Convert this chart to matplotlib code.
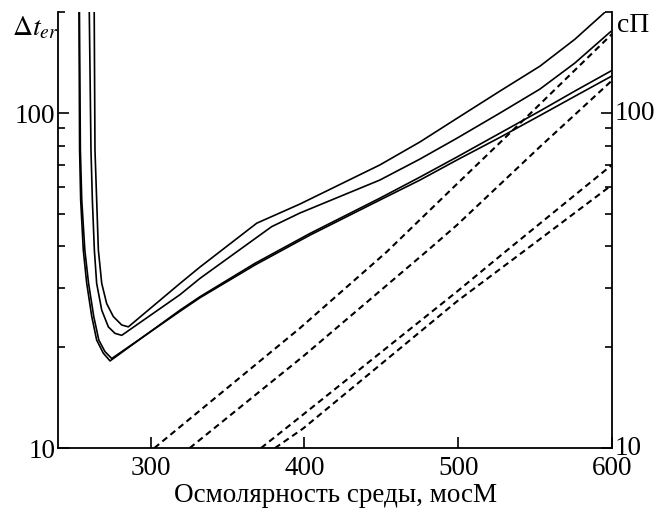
import numpy as np
import matplotlib
matplotlib.use("Agg")
import matplotlib.pyplot as plt
import matplotlib.transforms as mtransforms
from matplotlib.ticker import LogLocator, NullFormatter, FixedLocator, FixedFormatter

plt.rcParams['font.family'] = ['Liberation Serif', 'DejaVu Serif']
plt.rcParams['mathtext.fontset'] = 'stix'
plt.rcParams['lines.scale_dashes'] = False

# solid curves (Delta t_er)
xa = [263.3, 263.8, 264.9, 266.0, 268.2, 271.4, 275.7, 281.2, 285.5, 319.1, 332.1, 369.0,
      397.1, 449.1, 475.2, 499.2, 527.2, 553.2, 575.9, 595.5]
ya = [200, 77.6, 55.0, 39.0, 31.0, 27.0, 24.7, 23.3, 23.0, 31.0, 34.7, 46.9,
      53.5, 70.0, 82.0, 96.4, 116.3, 138, 166, 200]

xb = [260.1, 261.2, 262.1, 263.4, 264.9, 268.2, 272.5, 276.8, 281.2, 319.1, 332.1, 378.7,
      397.1, 449.1, 475.2, 499.2, 527.2, 553.2, 575.9, 599.2]
yb = [200, 77.6, 55.0, 39.0, 31.0, 25.8, 23.0, 22.0, 21.7, 28.7, 32.1, 45.8,
      50.3, 63.1, 72.9, 84.1, 100, 117.9, 141, 175]

xc = [253.4, 253.8, 254.5, 256.2, 258.4, 261.7, 264.9, 269.2, 273.6, 319.1, 332.1, 367.9,
      403.6, 449.1, 475.2, 499.2, 527.2, 553.2, 575.9, 600]
yc = [200, 77.6, 55.0, 39.0, 31.1, 24.7, 21.0, 19.2, 18.2, 25.8, 28.3, 35.6,
      43.7, 55.7, 64.4, 73.9, 87.1, 101.4, 116.3, 134]

xd = [253.7, 254.3, 255.2, 257.2, 259.6, 263.0, 266.3, 270.3, 274.7, 319.1, 332.1, 367.9,
      403.6, 449.1, 475.2, 499.2, 527.2, 553.2, 575.9, 600]
yd = [200, 77.6, 55.0, 39.0, 31.1, 24.7, 21.0, 19.4, 18.5, 25.6, 28.1, 35.2,
      43.2, 55.0, 63.1, 72.4, 84.6, 98.3, 112.2, 129]

# dashed curves (viscosity, cP)
x1 = [302.4, 397.1, 453.5, 499.2, 548.8, 600]
y1 = [10, 22.8, 38.5, 61.4, 101.6, 172]

x2 = [325.4, 399.3, 480.5, 499.2, 553.2, 600]
y2 = [10, 18.8, 39.0, 46.3, 79.3, 125]

x3 = [371.8, 399.3, 499.2, 529.3, 600]
y3 = [10, 12.6, 29.3, 38.1, 70]

x4 = [380.9, 399.3, 499.2, 539.5, 600]
y4 = [10, 11.45, 27.4, 37.7, 61]

xticks = [300, 400, 500, 600]
yticks = [10, 100]

fig = plt.figure(figsize=(6.68, 5.08), dpi=100)
ax = fig.add_axes([0.0874, 0.118, 0.8286, 0.858])

for x, y in [(xa, ya), (xb, yb), (xc, yc), (xd, yd)]:
    ax.plot(x, y, color='black', lw=1.2, solid_joinstyle='round')
for x, y in [(x1, y1), (x2, y2), (x3, y3), (x4, y4)]:
    ax.plot(x, y, color='black', lw=1.5, dashes=(4.5, 3.0))

ax.set_yscale('log')
ax.set_xlim(240, 600)
ax.set_ylim(10, 200)
ax.set_xticks(xticks)
ax.yaxis.set_major_locator(FixedLocator(yticks))
ax.yaxis.set_major_formatter(FixedFormatter([str(v) for v in yticks]))
ax.yaxis.set_minor_locator(LogLocator(base=10, subs=range(2, 10)))
ax.yaxis.set_minor_formatter(NullFormatter())

ax.spines['top'].set_visible(False)
for s in ['left', 'right', 'bottom']:
    ax.spines[s].set_linewidth(1.3)
ax.tick_params(which='both', direction='in', left=True, right=True,
               labelright=True, top=False, width=1.2, labelsize=19.5)
ax.tick_params(which='major', length=8, pad=2)
ax.tick_params(which='minor', length=5)
ax.tick_params(axis='x', pad=6)

# lift the right-hand labels a little, as in the reference
shift = mtransforms.ScaledTranslation(0, 3 / 100, fig.dpi_scale_trans)
for tick in ax.yaxis.get_major_ticks():
    tick.label2.set_transform(tick.label2.get_transform() + shift)

ax.set_xlabel('Осмолярность среды, мосМ', fontsize=19.5, labelpad=1)
fig.text(0.052, 0.945, r'$\Delta t_{er}$', fontsize=20, ha='center', va='center')
fig.text(0.923, 0.95, 'сП', fontsize=20, ha='left', va='center')

fig.savefig('out.png', dpi=100)
